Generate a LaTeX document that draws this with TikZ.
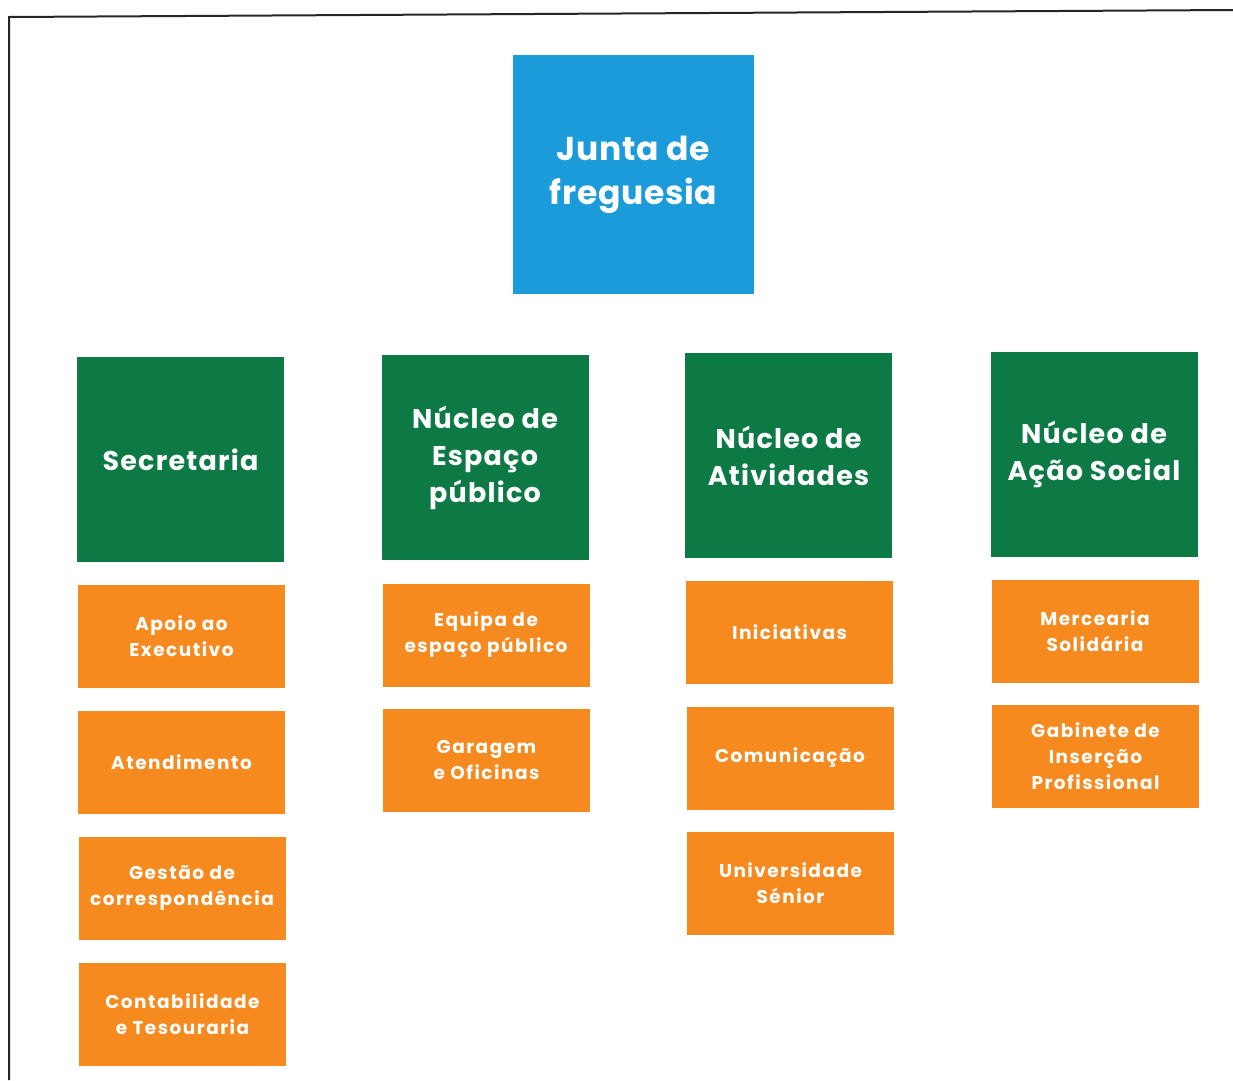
\documentclass[tikz,border=0pt]{standalone}
\usepackage{fontspec}
\setmainfont{Poppins}
\definecolor{jblue}{HTML}{1C9BDA}
\definecolor{ngreen}{HTML}{0D7A45}
\definecolor{sorange}{HTML}{F68A1F}
\begin{document}
\begin{tikzpicture}[x=1pt,y=-1pt,
  topbox/.style={fill=jblue, text=white, inner sep=0pt, align=center,
    minimum width=241pt, minimum height=239pt, font=\fontsize{33}{44}\selectfont\bfseries\addfontfeature{LetterSpace=2}},
  headbox/.style={fill=ngreen, text=white, inner sep=0pt, align=center,
    minimum width=207pt, minimum height=205pt, font=\fontsize{27}{37}\selectfont\bfseries\addfontfeature{LetterSpace=4.5}},
  subbox/.style={fill=sorange, text=white, inner sep=0pt, align=center,
    minimum width=207pt, minimum height=103pt, font=\fontsize{18.5}{26}\selectfont\bfseries\addfontfeature{LetterSpace=8}},
  frame/.style={draw=black!85, line width=2pt}]
\useasboundingbox (0,0) rectangle (1233,1080);
\draw[frame] (9,1080) -- (9,17) -- (1233,10);

\node[topbox] (junta) at (633.5,174.5) {Junta de\\freguesia};

\node[headbox] (sec) at (180.5,459.5) {Secretaria};
\node[headbox] (esp) at (485,457.5) {Núcleo de\\Espaço\\público};
\node[headbox] (ativ) at (788.5,455.5) {Núcleo de\\Atividades};
\node[headbox] (acao) at (1094,454) {Núcleo de\\Ação Social};

\node[subbox] (apoio) at (181.5,636.5) {Apoio ao\\Executivo};
\node[subbox] (atend) at (181.5,762) {Atendimento};
\node[subbox] (gestao) at (182,888) {Gestão de\\correspondência};
\node[subbox] (conta) at (182.5,1014) {Contabilidade\\e Tesouraria};

\node[subbox] (equipa) at (486,635) {Equipa de\\espaço público};
\node[subbox] (garagem) at (486.5,760) {Garagem\\e Oficinas};

\node[subbox] (inic) at (789.5,632.5) {Iniciativas};
\node[subbox] (comun) at (790,758) {Comunicação};
\node[subbox] (univ) at (790.5,883.5) {Universidade\\Sénior};

\node[subbox] (merc) at (1095,631.5) {Mercearia\\Solidária};
\node[subbox] (gab) at (1095.5,756) {Gabinete de\\Inserção\\Profissional};
\end{tikzpicture}
\end{document}
